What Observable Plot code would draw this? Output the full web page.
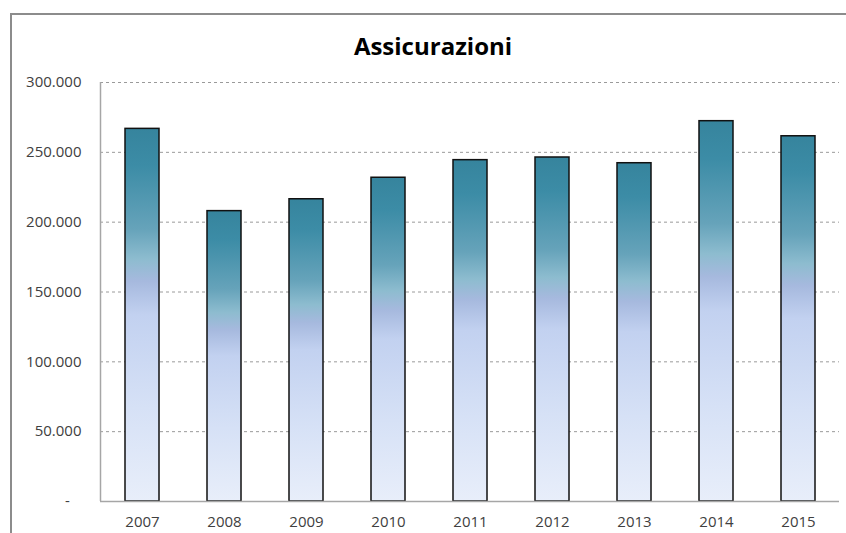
<!DOCTYPE html>
<html>
<head>
<meta charset="utf-8">
<script src="https://cdn.jsdelivr.net/npm/d3@7"></script>
<script src="https://cdn.jsdelivr.net/npm/@observablehq/plot@0.6"></script>
<style>
  html, body { margin: 0; padding: 0; background: #fff; }
  #wrap { position: relative; width: 846px; height: 533px; overflow: hidden; font-family: "Open Sans", sans-serif; }
  #border { position: absolute; left: 10px; top: 13px; width: 900px; height: 600px; border-left: 2px solid #8c8c8c; border-top: 2px solid #8c8c8c; }
  #title { position: absolute; left: 0; width: 866px; top: 29px; text-align: center; font-size: 24px; font-weight: bold; color: #000; }
</style>
</head>
<body>
<div id="wrap">
  <div id="border"></div>
  <div id="title">Assicurazioni</div>
</div>
<script>
const title = "Assicurazioni";
const years = ["2007", "2008", "2009", "2010", "2011", "2012", "2013", "2014", "2015"];
const values = [266800, 207900, 216400, 231800, 244400, 246300, 242200, 272300, 261500];
const yTicks = [0, 50000, 100000, 150000, 200000, 250000, 300000];

const data = years.map((y, i) => ({year: y, value: values[i]}));
const fmt = d => d === 0 ? "-\u00a0\u00a0\u00a0" : d3.format(",")(d).replace(/,/g, ".");

const chart = Plot.plot({
  width: 846,
  height: 533,
  marginLeft: 100,
  marginRight: 7,
  marginTop: 82,
  marginBottom: 32,
  style: {fontFamily: "Open Sans, sans-serif", fontSize: "15px", color: "#404040", background: "transparent"},
  x: {domain: years, paddingInner: 0.59, paddingOuter: 0.295, label: null},
  y: {domain: [0, 300000], label: null},
  marks: [
    () => {
      const ns = "http://www.w3.org/2000/svg";
      const defs = document.createElementNS(ns, "defs");
      const g = document.createElementNS(ns, "linearGradient");
      g.setAttribute("id", "barGrad");
      g.setAttribute("x1", "0"); g.setAttribute("y1", "0");
      g.setAttribute("x2", "0"); g.setAttribute("y2", "1");
      [[0, "#36849d"], [0.1, "#3c8ca6"], [0.27, "#66a3ba"], [0.35, "#8dbccf"], [0.41, "#a6b9de"], [0.5, "#c2d1f0"], [0.75, "#d6e1f6"], [1, "#e8eefa"]]
        .forEach(([o, c]) => {
          const s = document.createElementNS(ns, "stop");
          s.setAttribute("offset", o);
          s.setAttribute("stop-color", c);
          g.appendChild(s);
        });
      defs.appendChild(g);
      return defs;
    },
    Plot.gridY(yTicks.filter(d => d > 0), {stroke: "#9a9a9a", strokeOpacity: 1, strokeDasharray: "3,3", strokeWidth: 1}),
    Plot.axisY({ticks: yTicks, tickFormat: fmt, tickSize: 0, tickPadding: 19, label: null, fill: "#404040"}),
    Plot.axisX({tickSize: 0, tickPadding: 15, label: null, fill: "#404040"}),
    (index, scales, values, dimensions) => {
      const ns = "http://www.w3.org/2000/svg";
      const line = document.createElementNS(ns, "line");
      const x = dimensions.marginLeft + 0.5;
      line.setAttribute("x1", x); line.setAttribute("x2", x);
      line.setAttribute("y1", scales.y(300000)); line.setAttribute("y2", scales.y(0));
      line.setAttribute("stroke", "#a6a6a6");
      line.setAttribute("stroke-width", 1.5);
      return line;
    },
    Plot.barY(data, {x: "year", y: "value", fill: "url(#barGrad)", stroke: "#111", strokeWidth: 1.5}),
    Plot.ruleY([0], {stroke: "#a6a6a6", strokeWidth: 1.5})
  ]
});
chart.style.position = "absolute";
chart.style.left = "0";
chart.style.top = "0";
document.getElementById("wrap").appendChild(chart);
</script>
</body>
</html>
